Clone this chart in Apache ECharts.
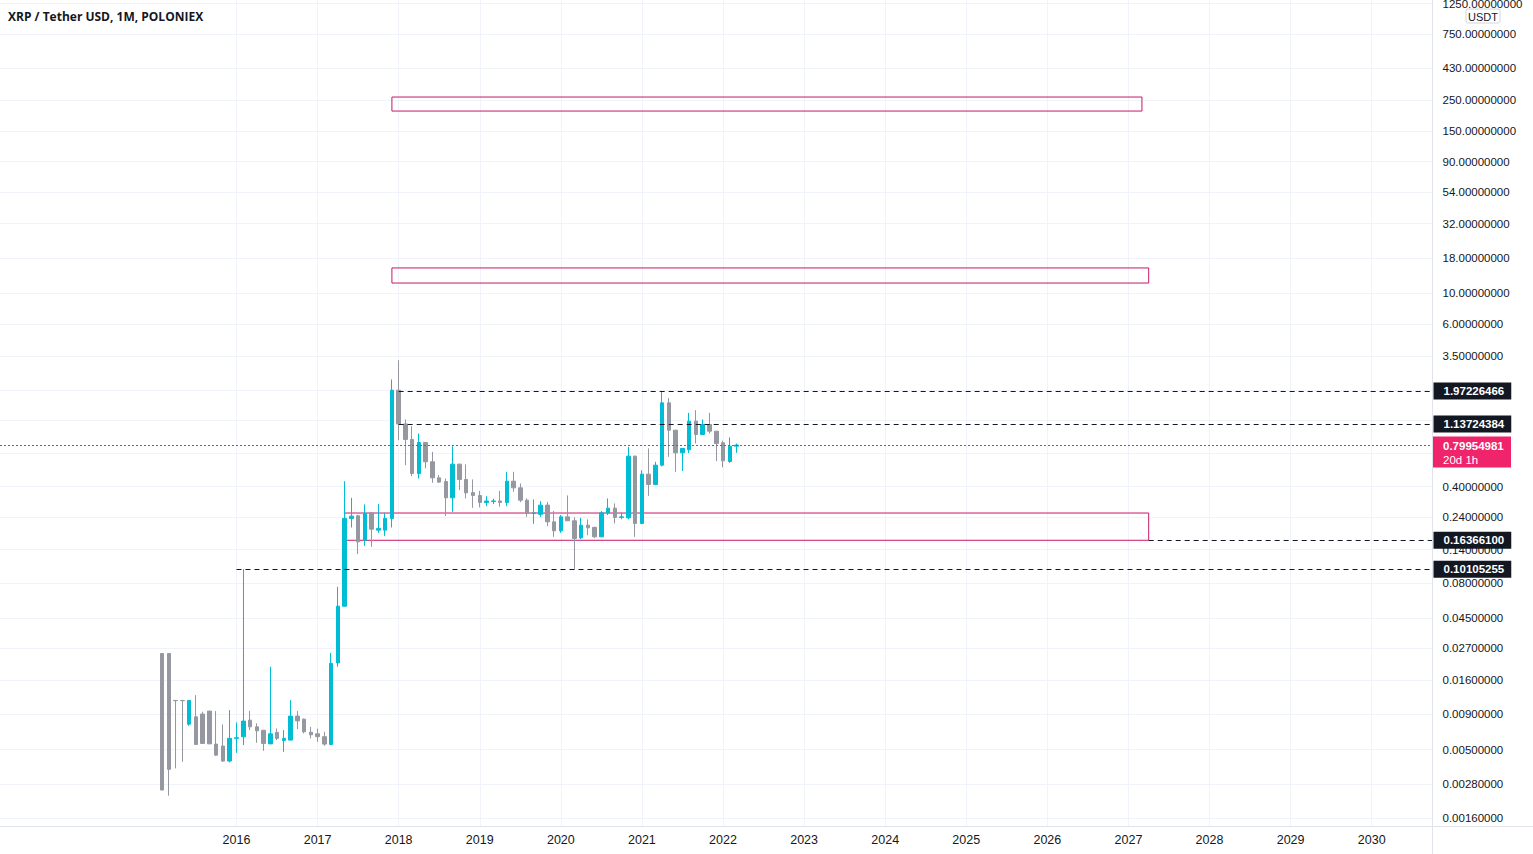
<!DOCTYPE html>
<html>
<head>
<meta charset="utf-8">
<script src="https://cdn.jsdelivr.net/npm/echarts@6/dist/echarts.min.js"></script>
<style>
html,body{margin:0;padding:0;background:#ffffff;}
#chart{width:1533px;height:854px;}
</style>
</head>
<body>
<div id="chart"></div>
<script>
// ---------------- data ----------------
const chartTitle = 'XRP / Tether USD, 1M, POLONIEX';
const firstCandleMonth = '2015-02';
const axisStartMonth = '2013-02';
const axisEndMonth = '2030-10';

const opens = [0.0248,0.0248,0.01135,0.01135,0.00764,0.00863,0.00904,0.0095,0.00548,0.0053,
  0.00413,0.00603,0.00619,0.00817,0.00731,0.0069,0.0055,0.00666,0.00583,0.00586,
  0.00874,0.0083,0.00668,0.0065,0.0062,0.00545,0.0212,0.0546,0.2355,0.246,
  0.164,0.2585,0.1938,0.1938,0.2355,1.996,1.137,0.878,0.498,0.835,
  0.605,0.463,0.435,0.332,0.582,0.451,0.362,0.345,0.3075,0.3125,
  0.315,0.307,0.438,0.392,0.319,0.256,0.2522,0.294,0.2225,0.1915,
  0.2417,0.2264,0.1704,0.2105,0.203,0.1733,0.2585,0.2796,0.2395,0.2378,
  0.665,0.2166,0.4926,0.415,0.572,1.616,1.025,0.7025,0.74,1.191,
  0.954,1.127,1.008,0.83,0.608,0.785];
const closes = [0.00255,0.0036,0.0113,0.0113,0.01135,0.00545,0.00554,0.0055,0.00456,0.00413,
  0.00603,0.00609,0.00804,0.00731,0.00684,0.00554,0.0065,0.00603,0.00603,0.00874,
  0.00807,0.00673,0.0064,0.0062,0.00548,0.02104,0.0546,0.2355,0.2447,0.1594,
  0.256,0.197,0.1995,0.2355,1.996,1.137,0.878,0.498,0.835,0.605,
  0.463,0.4313,0.332,0.582,0.451,0.3607,0.3454,0.3075,0.315,0.315,
  0.307,0.438,0.392,0.3193,0.256,0.258,0.2939,0.2225,0.1915,0.2417,
  0.2264,0.1687,0.2105,0.2014,0.1733,0.2585,0.2796,0.2395,0.2417,0.6649,
  0.2166,0.4926,0.415,0.572,1.616,1.025,0.7025,0.7559,1.191,0.954,
  1.127,1.008,0.8214,0.615,0.785,0.79954981];
const lows = [0.00255,0.00232,0.00366,0.00408,0.00743,0.00545,0.00554,0.0055,0.00451,0.00408,
  0.00404,0.00474,0.00539,0.00692,0.0056,0.0049,0.0055,0.00586,0.00482,0.00586,
  0.00703,0.00655,0.00603,0.00569,0.00533,0.00539,0.0199,0.054,0.2027,0.130,
  0.149,0.1466,0.1853,0.176,0.2027,0.868,0.572,0.4765,0.458,0.542,
  0.4265,0.425,0.245,0.263,0.3773,0.3288,0.281,0.283,0.289,0.299,
  0.286,0.289,0.367,0.309,0.2417,0.2153,0.2417,0.207,0.1733,0.1853,
  0.226,0.1015,0.1668,0.178,0.17,0.172,0.249,0.2166,0.2325,0.232,
  0.1733,0.214,0.343,0.41,0.56,0.6573,0.5118,0.520,0.70,0.822,
  0.95,0.97,0.6115,0.551,0.595,0.7025];
const highs = [0.0248,0.0248,0.0114,0.0114,0.01135,0.0124,0.0094,0.0095,0.0095,0.0076,
  0.00966,0.00787,0.10105,0.00955,0.00774,0.0069,0.01987,0.00711,0.00692,0.0114,
  0.0095,0.0084,0.00731,0.0071,0.00673,0.02508,0.0753,0.438,0.332,0.25,
  0.2973,0.26,0.299,0.2585,2.387,3.29,1.225,1.096,0.97,0.84,
  0.714,0.485,0.458,0.785,0.585,0.579,0.451,0.373,0.341,0.327,
  0.373,0.512,0.512,0.4217,0.329,0.323,0.314,0.31,0.267,0.249,
  0.3454,0.24,0.2378,0.2317,0.205,0.266,0.3288,0.3023,0.2585,0.776,
  0.67,0.526,0.7559,0.605,1.972,1.75,1.03,0.76,1.368,1.431,
  1.225,1.368,1.01,0.86,0.908,0.821];

const yTickValues = [1250,750,430,250,150,90,54,32,18,10,6,3.5,2,1.2,0.7,0.4,0.24,0.14,0.08,0.045,0.027,0.016,0.009,0.005,0.0028,0.0016];
const yTickHidden = [2,1.2,0.7];
const xYearLabels = ['2016','2017','2018','2019','2020','2021','2022','2023','2024','2025','2026','2027','2028','2029','2030'];

const levelValues = [1.97226466, 1.13724384, 0.163661, 0.10105255];
const levelStartMonths = ['2018-01', '2018-01', '2027-04', '2016-01'];

const zoneStartMonths = ['2017-12', '2017-12', '2017-05'];
const zoneEndMonths = ['2027-03', '2027-04', '2027-04'];
const zoneHighs = [264, 15.3, 0.2577];
const zoneLows = [209, 11.9, 0.163661];

const lastPrice = 0.79954981;
const countdownText = '20d 1h';
const currencyText = 'USDT';

// ---------------- helpers ----------------
function nextMonth(s) {
  let y = +s.slice(0, 4), m = +s.slice(5, 7) + 1;
  if (m > 12) { m = 1; y++; }
  return y + '-' + String(m).padStart(2, '0');
}
const axisMonths = [];
for (let s = axisStartMonth; ; s = nextMonth(s)) { axisMonths.push(s); if (s === axisEndMonth) break; }
const candleMonths = [];
for (let s = firstCandleMonth, i = 0; i < opens.length; i++, s = nextMonth(s)) candleMonths.push(s);
const candleData = candleMonths.map((m, i) => [m, opens[i], closes[i], lows[i], highs[i]]);

const isYearTick = (v) => v.endsWith('-01') && xYearLabels.indexOf(v.slice(0, 4)) >= 0;

const UP = '#00bcd4', DOWN = '#9598a1', TXT = '#131722', GRID = '#f0f3fa', BORDER = '#e0e3eb';
const ZONE = '#c8176a', PRICE = '#f0246b';
const FONT = "'Liberation Sans', Arial, sans-serif";

const chart = echarts.init(document.getElementById('chart'), null, { renderer: 'svg' });

const option = {
  animation: false,
  backgroundColor: '#ffffff',
  title: {
    text: chartTitle, left: 8, top: 10, padding: 0,
    textStyle: { fontFamily: "'Open Sans', sans-serif", fontWeight: 'bold', fontSize: 12, color: TXT }
  },
  grid: { left: 0, top: 0, width: 1432.5, height: 826, containLabel: false },
  xAxis: {
    type: 'category', data: axisMonths, boundaryGap: false,
    axisLine: { show: true, lineStyle: { color: BORDER } },
    axisTick: { show: false },
    axisLabel: {
      interval: (i, v) => isYearTick(v),
      formatter: (v) => v.slice(0, 4),
      color: TXT, fontSize: 12.5, margin: 7,
      fontFamily: "'Liberation Sans Narrow', 'Liberation Sans', Arial, sans-serif"
    },
    splitLine: { show: true, interval: (i, v) => isYearTick(v), lineStyle: { color: GRID, width: 1 } }
  },
  yAxis: {
    type: 'log', logBase: 10, min: 0.0014, max: 1330, position: 'right',
    axisLine: { show: false }, axisTick: { show: false },
    axisLabel: { show: false }, splitLine: { show: false }
  },
  series: [
    {
      type: 'line', data: [], z: 1, silent: true,
      markLine: {
        silent: true, symbol: ['none', 'none'], z: 1, animation: false, precision: 10,
        lineStyle: { color: GRID, width: 1, type: 'solid' },
        label: { show: true, position: 'end', distance: 10, formatter: '{b}', color: TXT, fontSize: 11.5, fontFamily: FONT },
        emphasis: { disabled: true },
        data: yTickValues.map(v => ({ yAxis: v, name: v.toFixed(8), label: { show: yTickHidden.indexOf(v) < 0 } }))
      }
    },
    {
      type: 'line', data: [], z: 4, silent: true,
      markLine: {
        silent: true, symbol: ['none', 'none'], z: 4, animation: false, precision: 10,
        lineStyle: { color: PRICE, width: 1, type: [2, 2], opacity: 1 },
        label: { show: false },
        emphasis: { disabled: true },
        data: [{ yAxis: lastPrice }]
      }
    },
    {
      type: 'candlestick', name: 'XRPUSDT', data: candleData,
      encode: { x: 0, y: [1, 2, 3, 4] },
      barWidth: 4, z: 3,
      itemStyle: { color: UP, color0: DOWN, borderColor: UP, borderColor0: DOWN, borderWidth: 1 },
      markArea: {
        silent: true, z: 2, precision: 10,
        itemStyle: { color: 'rgba(0,0,0,0)', borderColor: ZONE, borderWidth: 1 },
        emphasis: { disabled: true },
        data: zoneStartMonths.map((s, i) => [
          { xAxis: s, yAxis: zoneHighs[i] },
          { xAxis: zoneEndMonths[i], yAxis: zoneLows[i] }
        ])
      },
      markLine: {
        silent: true, symbol: ['none', 'none'], z: 6, animation: false, precision: 10,
        emphasis: { disabled: true },
        lineStyle: { color: TXT, width: 1, type: [5, 4] },
        data: levelValues.map((v, i) => [
          {
            coord: [levelStartMonths[i], v], name: v.toFixed(8),
            label: {
              show: true, position: 'end', distance: 1, formatter: '{b}',
              backgroundColor: TXT, color: '#ffffff', fontWeight: 'bold', fontSize: 11.5,
              fontFamily: FONT, padding: [3, 7, 2, 10], lineHeight: 12
            }
          },
          { coord: [axisEndMonth, v] }
        ])
      }
    }
  ]
};
chart.setOption(option);

const py = chart.convertToPixel({ yAxisIndex: 0 }, lastPrice);
chart.setOption({
  graphic: [
    { type: 'line', z: 50, silent: true, shape: { x1: 1432.5, y1: 0, x2: 1432.5, y2: 854 }, style: { stroke: BORDER, lineWidth: 1 } },
    { type: 'line', z: 50, silent: true, shape: { x1: 0, y1: 826.5, x2: 1533, y2: 826.5 }, style: { stroke: BORDER, lineWidth: 1 } },
    {
      type: 'group', z: 60, silent: true, x: 1466, y: 9,
      children: [
        { type: 'rect', shape: { x: 0, y: 0, width: 34, height: 14, r: 2 }, style: { fill: '#ffffff', stroke: '#d1d4dc', lineWidth: 1 } },
        { type: 'text', style: { text: currencyText, x: 17, y: 7.5, align: 'center', verticalAlign: 'middle', fontSize: 11, fill: TXT, fontFamily: FONT } }
      ]
    },
    {
      type: 'group', z: 70, silent: true, x: 1433, y: py,
      children: [
        { type: 'rect', shape: { x: 0, y: -8.5, width: 78, height: 31 }, style: { fill: PRICE } },
        { type: 'text', style: { text: lastPrice.toFixed(8), x: 10, y: 0.5, verticalAlign: 'middle', fontSize: 11.5, fontWeight: 'bold', fill: '#ffffff', fontFamily: FONT } },
        { type: 'text', style: { text: countdownText, x: 10, y: 14.5, verticalAlign: 'middle', fontSize: 11.5, fill: '#ffffff', fontFamily: FONT } }
      ]
    }
  ]
});
</script>
</body>
</html>
